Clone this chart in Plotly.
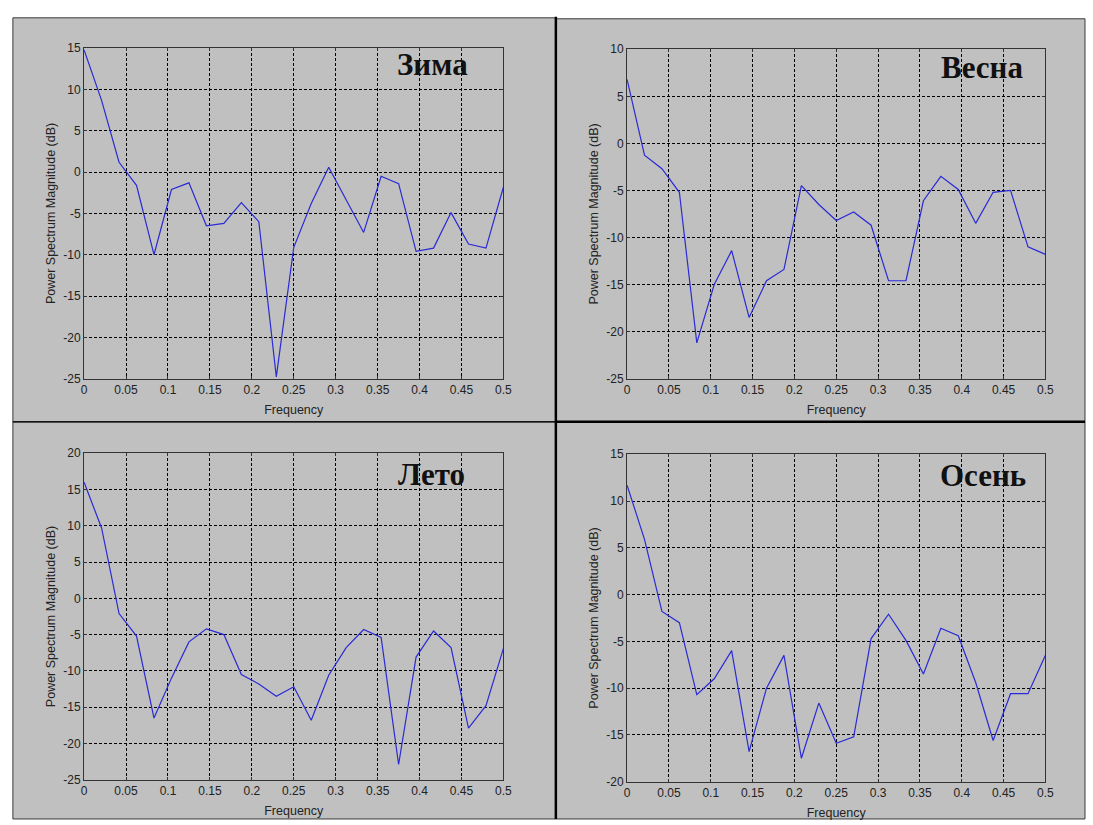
import plotly.graph_objects as go

# Frequency grid: 25 bins from 0 to 0.5 (step 1/48)
freq = [k / 48 for k in range(25)]

winter = [14.8, 8.7, 1.2, -1.6, -10.0, -2.1, -1.3, -6.5, -6.2, -3.7, -6.0, -24.8, -9.1,
          -3.8, 0.6, -3.3, -7.3, -0.5, -1.4, -9.6, -9.2, -4.9, -8.7, -9.2, -1.8]
spring = [6.8, -1.25, -2.7, -5.2, -21.2, -15.0, -11.4, -18.5, -14.6, -13.4, -4.5, -6.5, -8.2,
          -7.3, -8.7, -14.6, -14.6, -6.1, -3.5, -4.9, -8.5, -5.2, -5.0, -11.0, -11.8]
summer = [16.0, 9.7, -2.1, -5.2, -16.5, -11.0, -6.0, -4.2, -5.0, -10.5, -11.8, -13.5, -12.2,
          -16.8, -10.6, -6.8, -4.3, -5.4, -22.9, -8.1, -4.5, -6.8, -17.9, -14.8, -6.9]
autumn = [11.7, 5.9, -1.8, -3.0, -10.7, -9.0, -6.0, -16.8, -10.0, -6.5, -17.5, -11.6, -15.9,
          -15.2, -4.7, -2.1, -4.9, -8.5, -3.6, -4.4, -9.4, -15.6, -10.6, -10.6, -6.5]

seasons = ["Зима", "Весна", "Лето", "Осень"]
series = [winter, spring, summer, autumn]
y_ranges = [(-25, 15), (-25, 10), (-25, 20), (-20, 15)]

W, H = 1093, 825
GRAY = "#c0c0c0"

# plot-area boxes in pixels: (left, right, top, bottom)
boxes = [(82, 506, 42, 378), (631, 1054, 43, 378), (82, 506, 454, 786), (631, 1054, 455, 788)]
# panel backgrounds in pixels: (left, right, top, bottom)
panels = [(10, 559, 11, 422), (559, 1094, 12, 422), (10, 559, 422, 826), (559, 1094, 422, 826)]
# title label centres in pixels
title_pos = [(434, 58), (990, 62), (433, 476), (991, 477)]


def px(x):
    return x / W


def py(y):
    return 1 - y / H


fig = go.Figure()
shapes = []
annotations = []

for p in panels:
    shapes.append(dict(type="rect", xref="paper", yref="paper",
                       x0=px(p[0]), x1=px(p[1]), y0=py(p[3]), y1=py(p[2]),
                       fillcolor=GRAY, line=dict(color="#3a3a3a", width=1), layer="below"))

# dividing lines between panels
shapes.append(dict(type="line", xref="paper", yref="paper", x0=px(559), x1=px(559),
                   y0=py(826), y1=py(10), line=dict(color="#000", width=2.5)))
shapes.append(dict(type="line", xref="paper", yref="paper", x0=px(559), x1=px(1094),
                   y0=py(422), y1=py(422), line=dict(color="#000", width=2.5)))
shapes.append(dict(type="line", xref="paper", yref="paper", x0=px(10), x1=px(559),
                   y0=py(422), y1=py(422), line=dict(color="#000", width=1.2)))

tick_font = dict(family="Liberation Sans, Arial, sans-serif", size=12, color="#222")
title_font = dict(family="Liberation Sans, Arial, sans-serif", size=12.5, color="#222")

for i, (name, vals, yr, b, tp) in enumerate(zip(seasons, series, y_ranges, boxes, title_pos)):
    n = "" if i == 0 else str(i + 1)
    fig.add_trace(go.Scatter(x=freq, y=vals, mode="lines", xaxis="x" + n, yaxis="y" + n,
                             line=dict(color="#2a2ad6", width=1.2), showlegend=False))
    common = dict(showgrid=True, gridcolor="#000", gridwidth=1, griddash="3px,2px",
                  showline=True, linecolor="#333", linewidth=1, mirror="ticks",
                  ticks="inside", ticklen=3, tickcolor="#333", zeroline=False,
                  tickfont=tick_font)
    # dB ticks every 5, labelled with a plain hyphen-minus
    yticks = list(range(yr[0], yr[1] + 1, 5))
    fig.layout["xaxis" + n] = dict(
        domain=[px(b[0]), px(b[1])], anchor="y" + n, range=[0, 0.5], dtick=0.05, tick0=0,
        title=dict(text="Frequency", font=title_font, standoff=9),
        **common)
    fig.layout["yaxis" + n] = dict(
        domain=[py(b[3]), py(b[2])], anchor="x" + n, range=list(yr),
        tickmode="array", tickvals=yticks, ticktext=[str(v) for v in yticks],
        title=dict(text="Power Spectrum Magnitude (dB)", font=title_font, standoff=4),
        **common)
    annotations.append(dict(text="<b>%s</b>" % name, xref="paper", yref="paper",
                            x=px(tp[0]), y=py(tp[1]), xanchor="center", yanchor="middle",
                            showarrow=False,
                            font=dict(family="Liberation Serif, Times New Roman, serif",
                                      size=31, color="#111")))

fig.update_layout(width=W, height=H, margin=dict(l=0, r=0, t=0, b=0),
                  paper_bgcolor="white", plot_bgcolor=GRAY,
                  shapes=shapes, annotations=annotations)

fig.write_html("out.html")
